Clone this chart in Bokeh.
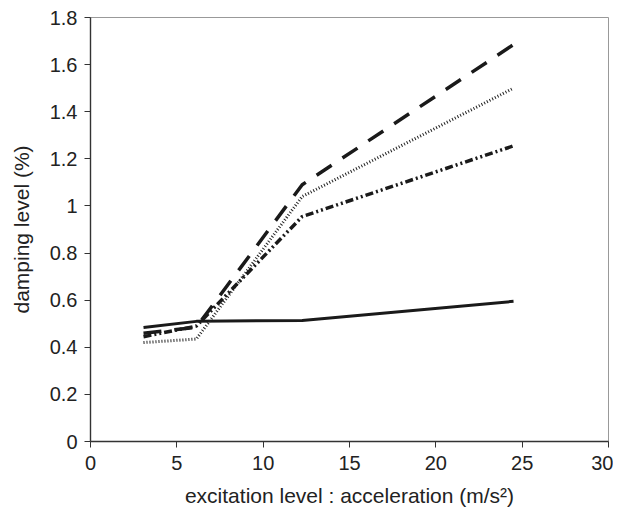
from bokeh.plotting import figure
from bokeh.models import FixedTicker, CustomJSTickFormatter, Range1d
from bokeh.embed import file_html
from bokeh.resources import INLINE

# data
accel = [3.07, 6.13, 12.26, 24.5]
damp_solid = [0.484, 0.51, 0.514, 0.595]
damp_dash = [0.46, 0.485, 1.09, 1.685]
damp_dot = [0.42, 0.435, 1.04, 1.50]
damp_dashdot = [0.445, 0.49, 0.955, 1.255]

x_ticks = [0, 5, 10, 15, 20, 25, 30]
y_ticks = [0, 0.2, 0.4, 0.6, 0.8, 1, 1.2, 1.4, 1.6, 1.8]

p = figure(frame_width=518, frame_height=424, output_backend="svg",
           toolbar_location=None, x_range=Range1d(0, 30), y_range=Range1d(0, 1.8),
           min_border_left=90, min_border_right=5, min_border_top=17, min_border_bottom=70)
p.background_fill_color = "white"
p.border_fill_color = "white"
p.outline_line_color = "#999999"
p.outline_line_width = 1
p.grid.visible = False

font = "Liberation Sans"
for ax in (p.xaxis[0], p.yaxis[0]):
    ax.axis_line_color = "#333333"
    ax.axis_line_width = 1.4
    ax.major_tick_line_color = "#333333"
    ax.major_tick_in = 0
    ax.major_tick_out = 6
    ax.minor_tick_line_color = None
    ax.major_label_text_font = font
    ax.major_label_text_font_size = "20px"
    ax.major_label_text_color = "#222222"
    ax.axis_label_text_font = font
    ax.axis_label_text_font_size = "21px"
    ax.axis_label_text_font_style = "normal"
    ax.axis_label_text_color = "#222222"

p.xaxis.ticker = FixedTicker(ticks=x_ticks)
p.yaxis.ticker = FixedTicker(ticks=y_ticks)
p.yaxis.formatter = CustomJSTickFormatter(code="return String(Math.round(tick*10)/10)")
p.xaxis.major_label_standoff = 8
p.yaxis.major_label_standoff = 7
p.xaxis.axis_label = "excitation level : acceleration (m/s\u00b2)"
p.yaxis.axis_label = "damping level (%)"
p.xaxis.axis_label_standoff = 11
p.yaxis.axis_label_standoff = 14

col = "#1a1a1a"
p.line(accel, damp_solid, line_color=col, line_width=3)
p.line(accel, damp_dash, line_color=col, line_width=3.5, line_dash="18 13")
p.line(accel, damp_dot, line_color="#222222", line_width=3, line_dash="1 2")
p.line(accel, damp_dashdot, line_color=col, line_width=3.5, line_dash="8 3 2 3 2 3")

open("out.html", "w").write(file_html(p, INLINE))
